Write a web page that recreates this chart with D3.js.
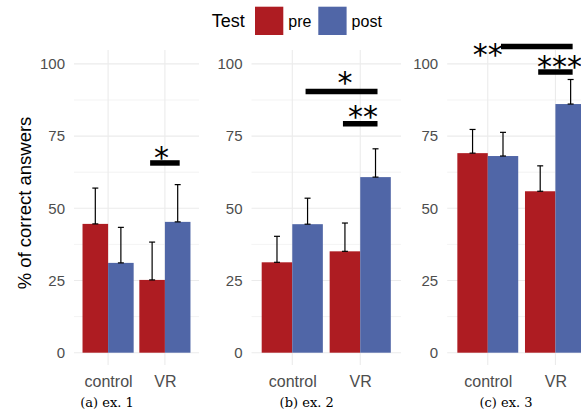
<!DOCTYPE html>
<html>
<head>
<meta charset="utf-8">
<script src="https://cdn.jsdelivr.net/npm/d3@7"></script>
<style>
  body { margin: 0; background: #fff; }
  svg { display: block; font-family: "Liberation Sans", Arial, sans-serif; }
</style>
</head>
<body>
<svg id="chart"></svg>
<script>
// categories / legend
const categories = ["control", "VR"];
const tests = ["pre", "post"];
const testColors = ["#ae1c22", "#5066a7"];
const yTicks = [0, 25, 50, 75, 100];
const yMinorTicks = [12.5, 37.5, 62.5, 87.5];
const captions = ["(a) ex. 1", "(b) ex. 2", "(c) ex. 3"];

// means (bar tops) and upper ends of the error bars, [control, VR]
const ex1Pre = [44.6, 25.2];
const ex1PreUpper = [57.0, 38.3];
const ex1Post = [31.1, 45.3];
const ex1PostUpper = [43.4, 58.2];

const ex2Pre = [31.3, 35.1];
const ex2PreUpper = [40.3, 44.9];
const ex2Post = [44.5, 60.8];
const ex2PostUpper = [53.5, 70.6];

const ex3Pre = [69.1, 55.9];
const ex3PreUpper = [77.3, 64.7];
const ex3Post = [68.1, 86.1];
const ex3PostUpper = [76.3, 94.6];

// significance brackets: from/to = [category index, test index]
const ex1Sig = [
  { from: [1, 0], to: [1, 1], y: 65.7, label: "*", labelX: 0.94, labelY: 68.9 }
];
const ex2Sig = [
  { from: [0, 1], to: [1, 1], y: 90.4, label: "*", labelX: 0.775, labelY: 94.8 },
  { from: [1, 0], to: [1, 1], y: 79.3, label: "**", labelX: 1.04, labelY: 82.9 }
];
const ex3Sig = [
  { from: [0, 1], to: [1, 1], y: 106.0, label: "**", labelX: 0.0, labelY: 104.4 },
  { from: [1, 0], to: [1, 1], y: 97.2, label: "***", labelX: 1.06, labelY: 100.2 }
];

const W = 581, H = 415;
const svg = d3.select("#chart").attr("width", W).attr("height", H);
svg.append("rect").attr("width", W).attr("height", H).attr("fill", "#fff");

const panelTop = 50, panelBottom = 365;
const y = d3.scaleLinear().domain([0, 100]).range([352.7, 63.9]);
const dodge = 0.225, barW = 0.45;

const drawPanel = function(left, right, pre, preUp, post, postUp, sig, caption) {
  var x = d3.scaleLinear().domain([-0.6, 1.6]).range([left, right]);
  var g = svg.append("g");

  // grid
  g.selectAll(".minor").data(yMinorTicks).join("line")
    .attr("x1", left).attr("x2", right)
    .attr("y1", d => y(d)).attr("y2", d => y(d))
    .attr("stroke", "#ebebeb").attr("stroke-width", 0.6);
  g.selectAll(".major").data(yTicks).join("line")
    .attr("x1", left).attr("x2", right)
    .attr("y1", d => y(d)).attr("y2", d => y(d))
    .attr("stroke", "#ebebeb").attr("stroke-width", 1.1);
  g.selectAll(".vgrid").data(categories).join("line")
    .attr("x1", (d, i) => x(i)).attr("x2", (d, i) => x(i))
    .attr("y1", panelTop).attr("y2", panelBottom)
    .attr("stroke", "#ebebeb").attr("stroke-width", 1.1);

  // y axis labels
  var yAxis = g.append("g")
    .attr("transform", `translate(${left},0)`)
    .call(d3.axisLeft(y).tickValues(yTicks).tickSize(0).tickPadding(9));
  yAxis.select(".domain").remove();
  yAxis.selectAll("text").attr("fill", "#4d4d4d").style("font-size", "15px")
    .style("font-family", "Liberation Sans, Arial, sans-serif");

  // x axis labels
  var xAxis = g.append("g")
    .attr("transform", `translate(0,${panelBottom})`)
    .call(d3.axisBottom(x).tickValues([0, 1]).tickFormat(i => categories[i]).tickSize(0).tickPadding(11));
  xAxis.select(".domain").remove();
  xAxis.selectAll("text").attr("fill", "#4d4d4d").style("font-size", "16px")
    .style("font-family", "Liberation Sans, Arial, sans-serif");

  // bars
  var series = [[pre, preUp], [post, postUp]];
  series.forEach((s, j) => {
    categories.forEach((c, i) => {
      var x0 = j === 0 ? i - barW : i;
      var cx = x(x0 + barW / 2);
      g.append("rect")
        .attr("x", x(x0))
        .attr("width", x(x0 + barW) - x(x0))
        .attr("y", y(s[0][i]))
        .attr("height", y(0) - y(s[0][i]))
        .attr("fill", testColors[j]);
      // error bar (mean to upper)
      g.append("line")
        .attr("x1", cx).attr("x2", cx)
        .attr("y1", y(s[0][i])).attr("y2", y(s[1][i]))
        .attr("stroke", "#000").attr("stroke-width", 1.2);
      [s[0][i], s[1][i]].forEach(v => {
        g.append("line")
          .attr("x1", cx - 3).attr("x2", cx + 3)
          .attr("y1", y(v)).attr("y2", y(v))
          .attr("stroke", "#000").attr("stroke-width", 1.2);
      });
    });
  });

  // significance brackets
  var pos = p => p[0] + (p[1] === 0 ? -dodge : dodge);
  sig.forEach(s => {
    g.append("line")
      .attr("x1", x(pos(s.from)) - 2).attr("x2", x(pos(s.to)) + 2)
      .attr("y1", y(s.y)).attr("y2", y(s.y))
      .attr("stroke", "#000").attr("stroke-width", 5.5);
    g.append("text")
      .attr("x", x(s.labelX)).attr("y", y(s.labelY))
      .attr("dy", "0.47em")
      .attr("text-anchor", "middle")
      .style("font-family", "DejaVu Sans, sans-serif")
      .style("font-size", "30px")
      .text(s.label);
  });

  // caption
  svg.append("text")
    .attr("x", caption[1]).attr("y", 406.5)
    .attr("text-anchor", "middle")
    .style("font-family", "DejaVu Serif, serif")
    .style("font-size", "13px")
    .text(caption[0]);
};

drawPanel(74, 199, ex1Pre, ex1PreUpper, ex1Post, ex1PostUpper, ex1Sig, [captions[0], 107]);
drawPanel(251.5, 401, ex2Pre, ex2PreUpper, ex2Post, ex2PostUpper, ex2Sig, [captions[1], 306.7]);
drawPanel(447.2, 596, ex3Pre, ex3PreUpper, ex3Post, ex3PostUpper, ex3Sig, [captions[2], 506]);

// y title
svg.append("text")
  .attr("transform", "translate(31,203) rotate(-90)")
  .attr("text-anchor", "middle")
  .style("font-size", "18.5px")
  .attr("fill", "#000")
  .text("% of correct answers");

// legend
svg.append("text")
  .attr("x", 211.7).attr("y", 27.3)
  .style("font-size", "18px")
  .text("Test");
tests.forEach((t, j) => {
  var lx = 255 + j * 63.3;
  svg.append("rect")
    .attr("x", lx).attr("y", 6.7)
    .attr("width", 28.3).attr("height", 28.3)
    .attr("fill", testColors[j]);
  svg.append("text")
    .attr("x", lx + 33.3).attr("y", 27.3)
    .style("font-size", "16px")
    .text(t);
});
</script>
</body>
</html>
